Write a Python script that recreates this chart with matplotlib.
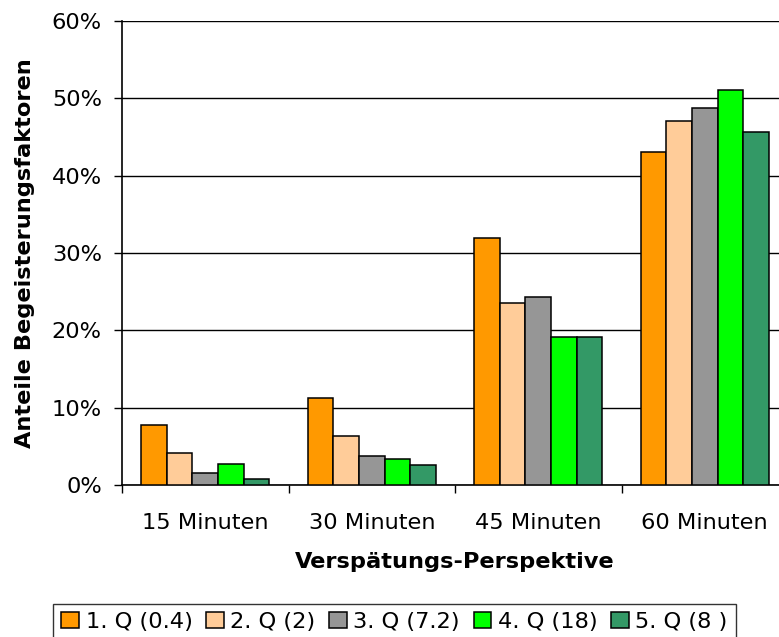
import numpy as np
import matplotlib.pyplot as plt
from matplotlib.ticker import FixedLocator

plt.rcParams['font.family'] = ['DejaVu Sans']

categories = ['15 Minuten', '30 Minuten', '45 Minuten', '60 Minuten']
series = ['1. Q (0.4)', '2. Q (2)', '3. Q (7.2)', '4. Q (18)', '5. Q (8 )']
values = [
    [7.7, 11.2, 32.0, 43.1],
    [4.2, 6.3, 23.5, 47.1],
    [1.6, 3.8, 24.3, 48.8],
    [2.7, 3.4, 19.1, 51.1],
    [0.8, 2.6, 19.2, 45.7],
]
colors = ['#FF9900', '#FFCC99', '#969696', '#00FF00', '#339966']

fs = 16.2

fig = plt.figure(figsize=(7.79, 6.37), dpi=100)
# plot area runs past the right edge, like the original export
ax = fig.add_axes([0.1566, 0.2386, 0.855, 0.7284])

x = np.arange(len(categories)) + 0.5
w = 0.154
handles = []
for i, (name, vals) in enumerate(zip(series, values)):
    off = (i - 2) * w
    b = ax.bar(x + off, vals, width=w, color=colors[i], edgecolor='black',
               linewidth=1.1, label=name, zorder=3)
    handles.append(b)

ax.set_xlim(0, 4)
ax.set_ylim(0, 60)
ax.set_yticks(range(0, 61, 10))
ax.set_yticklabels([f'{v}%' for v in range(0, 61, 10)])
ax.yaxis.grid(True, color='black', linewidth=1, zorder=0)
ax.set_axisbelow(True)

ax.set_xticks(x)
ax.set_xticklabels(categories)
ax.xaxis.set_minor_locator(FixedLocator([0, 1, 2, 3, 4]))
ax.tick_params(axis='x', which='major', length=0, pad=20, labelsize=fs)
ax.tick_params(axis='x', which='minor', length=6, width=1, direction='out')
ax.tick_params(axis='y', length=5.5, width=1, direction='out', labelsize=fs, pad=9)

for s in ['top', 'right']:
    ax.spines[s].set_visible(False)
for s in ['left', 'bottom']:
    ax.spines[s].set_linewidth(1.2)

ax.set_ylabel('Anteile Begeisterungsfaktoren', fontsize=fs, fontweight='bold', labelpad=12)
ax.set_xlabel('Verspätungs-Perspektive', fontsize=fs, fontweight='bold', labelpad=14)

leg = fig.legend(handles=handles, labels=series, loc='center', ncol=5,
                 bbox_to_anchor=(394.5 / 779, 1 - 622 / 637), fontsize=fs,
                 frameon=True, fancybox=False, edgecolor='black',
                 handlelength=0.78, handleheight=0.72, handletextpad=0.3,
                 columnspacing=0.6, borderpad=0.35, borderaxespad=0)
leg.get_frame().set_linewidth(1)

fig.savefig('out.png', dpi=100)
